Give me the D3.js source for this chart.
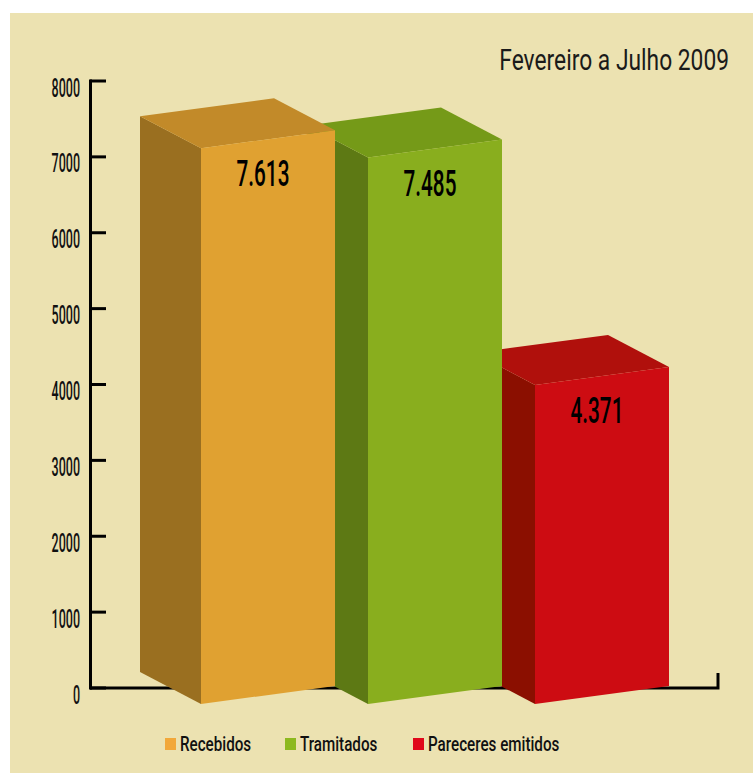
<!DOCTYPE html>
<html>
<head>
<meta charset="utf-8">
<script src="https://cdn.jsdelivr.net/npm/d3@7"></script>
<style>
  html, body { margin: 0; padding: 0; background: #fff; }
  svg text { font-family: Roboto, "Liberation Sans", sans-serif; fill: #111; font-weight: 500; }
</style>
</head>
<body>
<svg id="grafico" width="753" height="773"></svg>
<script>
// Dades
const categorias = ["Recebidos", "Tramitados", "Pareceres emitidos"];
const valores = [7613, 7485, 4371];
const ticksY = [0, 1000, 2000, 3000, 4000, 5000, 6000, 7000, 8000];
const titulo = "Fevereiro a Julho 2009";

// Cores (frente, lado, topo, legenda)
const corFrente = ["#E0A131", "#89AE1E", "#CD0C12"];
const corLado = ["#9A6F20", "#5D7914", "#8B0F00"];
const corTopo = ["#C28A29", "#759A18", "#B0100C"];
const corLegenda = ["#F2A83A", "#8DB91F", "#E0081A"];

const fmt = d3.formatLocale({ decimal: ",", thousands: ".", grouping: [3] }).format(",");

const svg = d3.select("#grafico");

// fons
svg.append("rect")
   .attr("x", 10).attr("y", 13)
   .attr("width", 743).attr("height", 760)
   .attr("fill", "#ECE2B1");

// escales
const y = d3.scaleLinear().domain([0, 8000]).range([688, 81]);
const alt = d3.scaleLinear().domain([0, 8000]).range([0, 584]); // alçada de la cara frontal
const x = d3.scaleBand()
            .domain(categorias)
            .range([201, 669])
            .paddingInner(33 / 167)
            .paddingOuter(0);

const base = 704;          // peu de la cara frontal (esquerra)
const incl = 18;           // inclinació de la cara frontal
const prof = [-61, -32];   // vector de profunditat

// Eixos
const eixY = svg.append("g");
eixY.append("line")
    .attr("x1", 90.5).attr("x2", 90.5)
    .attr("y1", y(8000) - 1.5).attr("y2", y(0) + 1.5)
    .attr("stroke", "#000").attr("stroke-width", 3);

eixY.selectAll("line.tick")
    .data(ticksY)
    .enter()
    .append("line")
    .attr("class", "tick")
    .attr("x1", 90).attr("x2", 106)
    .attr("y1", d => y(d)).attr("y2", d => y(d))
    .attr("stroke", "#000").attr("stroke-width", 3);

eixY.selectAll("text")
    .data(ticksY)
    .enter()
    .append("text")
    .attr("transform", d => `translate(80,${y(d) + 15.5}) scale(0.5,1)`)
    .attr("text-anchor", "end")
    .style("font-size", "25px")
    .text(d => d);

// eix X
svg.append("path")
   .attr("d", `M90,${y(0)} H718 V673`)
   .attr("fill", "none")
   .attr("stroke", "#000")
   .attr("stroke-width", 3);

// Barres (de dreta a esquerra perquè les de l'esquerra quedin al davant)
const dades = categorias.map((c, i) => ({ cat: c, valor: valores[i], i: i }));

const barres = svg.selectAll(".barra")
                  .data(dades.slice().reverse())
                  .enter()
                  .append("g")
                  .attr("class", "barra");

function pts(arr) { return arr.map(p => p.join(",")).join(" "); }

barres.each(function(d) {
    const g = d3.select(this);
    const xl = x(d.cat), xr = xl + x.bandwidth();
    const yb = base, yt = base - alt(d.valor);
    const [dx, dy] = prof;

    // lateral
    g.append("polygon")
     .attr("points", pts([[xl, yt], [xl + dx, yt + dy], [xl + dx, yb + dy], [xl, yb]]))
     .attr("fill", corLado[d.i]);

    // tapa
    g.append("polygon")
     .attr("points", pts([[xl, yt], [xr, yt - incl], [xr + dx, yt - incl + dy], [xl + dx, yt + dy]]))
     .attr("fill", corTopo[d.i]);

    // frontal
    g.append("polygon")
     .attr("points", pts([[xl, yt], [xr, yt - incl], [xr, yb - incl], [xl, yb]]))
     .attr("fill", corFrente[d.i]);

    // etiqueta
    g.append("text")
     .attr("transform", `translate(${xl + x.bandwidth() / 2 - 5},${yt + 38}) scale(0.56,1)`)
     .attr("text-anchor", "middle")
     .style("font-size", "37px")
     .style("fill", "#000")
     .text(fmt(d.valor));
});

// Títol
svg.append("text")
   .attr("transform", "translate(729,70) scale(0.76,1)")
   .attr("text-anchor", "end")
   .style("font-size", "30px")
   .style("font-weight", "400")
   .style("fill", "#1a1a1a")
   .text(titulo);

// Llegenda
const posLeg = [165, 285, 413];
const llegenda = svg.append("g");
categorias.forEach((c, i) => {
    const gl = llegenda.append("g")
                       .attr("transform", `translate(${posLeg[i]},738)`);
    gl.append("rect")
      .attr("width", 11)
      .attr("height", 12)
      .attr("fill", corLegenda[i]);
    gl.append("text")
      .attr("transform", "translate(15,13) scale(0.76,1)")
      .style("font-size", "20px")
      .text(c);
});
</script>
</body>
</html>
